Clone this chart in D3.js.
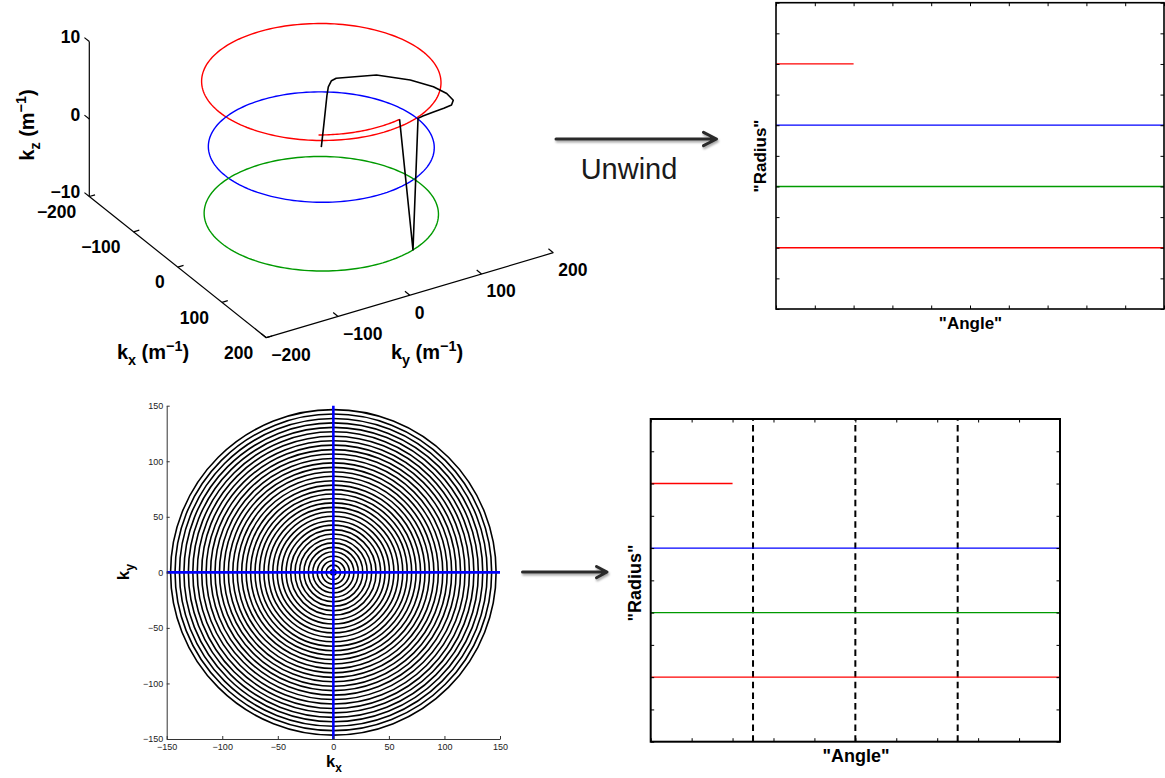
<!DOCTYPE html>
<html><head><meta charset="utf-8">
<script src="https://cdn.jsdelivr.net/npm/d3@7"></script>
<style>
body{margin:0;background:#fff;}
svg{display:block;font-family:"Liberation Sans",Arial,Helvetica,sans-serif;}
</style></head><body>
<script>
// ================= DATA =================
// --- 3D k-space panel ---
const ringSeries3d = ["red", "blue", "green"];
const ringRadius3d = [142, 134, 139];
const ringKz3d = [8.4, 0, -8.6];
const redArcAngleDeg = [-33, 10];
const redArcKz = [9.0, 9.2];
const redArcRadius = 140;
const trajKx = [0, 4, 6, 8, 11, 10, 11, 29, 60, 88, 110, 128, 137, 139, 140, 142, 144, 131, 135, 138];
const trajKy = [0, 1, 2, 3, 3, 8, 14, 59, 87, 102, 107, 105, 97, 85, 70, 54, 46, 47, 35, 24];
const trajKz = [0, 3, 5, 7, 8.2, 8.8, 9, 9, 9, 9, 9, 9, 9, 9, 9, 9, 9, -8.6, 0.5, 9.2];
const xTicks3d = [-200, -100, 0, 100, 200];
const yTicks3d = [-200, -100, 0, 100, 200];
const zTicks3d = [-10, 0, 10];

// --- concentric-circle panel ---
const ringRadii = [2.5, 6.5, 10.5, 14.5, 18.5, 22.5, 26.5, 30.5, 34.5, 38.5, 42.5, 46.5, 50.5,
  54.5, 58.5, 62.5, 66.5, 70.5, 74.5, 78.5, 82.5, 86.5, 90.5, 94.5, 98.5, 102.5, 106.5, 110.5,
  114.5, 118.5, 122.5, 126.5, 130.5, 134.5, 138.5, 142.5, 146.5];
const planeTicks = [-150, -100, -50, 0, 50, 100, 150];
const crossExtent = [-150, 150];

// --- unwound panels ---
const unwindSeries = ["red", "green", "blue", "red"];
const unwindRadius = [2, 4, 6, 8];
const unwindAngleStart = [0, 0, 0, 0];
const unwindAngleEnd = [10, 10, 10, 2];
const unwindTicks = [0, 1, 2, 3, 4, 5, 6, 7, 8, 9, 10];
const segmentAngles = [2.5, 5, 7.5];

const palette = {red: "#ff0000", blue: "#0000ff", green: "#009a00", black: "#000000"};

// ================= DRAW =================
const svg = d3.select("body").append("svg").attr("width", 1165).attr("height", 778);
const defs = svg.append("defs");
const f = defs.append("filter").attr("id", "shadow").attr("x", "-20%").attr("y", "-50%").attr("width", "140%").attr("height", "200%");
f.append("feDropShadow").attr("dx", 1).attr("dy", 2).attr("stdDeviation", 1.3).attr("flood-color", "#000").attr("flood-opacity", 0.35);

function addLabel(g, x, y, rot, size, parts) {
  const t = g.append("text").attr("transform", `translate(${x},${y}) rotate(${rot})`)
    .attr("text-anchor", "middle").attr("font-weight", "bold").attr("font-size", size).attr("fill", "#000");
  let shift = 0;
  parts.forEach(p => {
    let target = 0, fs = size;
    if (p.sub) { target = size * 0.28; fs = size * 0.72; }
    if (p.sup) { target = -size * 0.42; fs = size * 0.72; }
    t.append("tspan").attr("dy", target - shift).attr("font-size", fs).text(p.t);
    shift = target;
  });
  return t;
}
const fmt = t => String(t).replace("-", "\u2212");

// ---------- 3D panel ----------
const g3 = svg.append("g");
const P3 = {ox: 321.3, oy: 147.1, X: [88.5, 70.6], Y: [143.5, -42.5], Z: [0, -77.5]};
const sx3 = d3.scaleLinear().domain([-200, 200]).range([-1, 1]);
const sy3 = d3.scaleLinear().domain([-200, 200]).range([-1, 1]);
const sz3 = d3.scaleLinear().domain([-10, 10]).range([-1, 1]);
function proj(x, y, z) {
  const a = sx3(x), b = sy3(y), c = sz3(z);
  return [P3.ox + a * P3.X[0] + b * P3.Y[0] + c * P3.Z[0],
          P3.oy + a * P3.X[1] + b * P3.Y[1] + c * P3.Z[1]];
}
const line3 = d3.line();
const rad = d => d * Math.PI / 180;

// axes
const axStyle = sel => sel.attr("stroke", "#000").attr("stroke-width", 1.2).attr("fill", "none");
g3.append("path").attr("d", line3([proj(-200, -200, -10), proj(200, -200, -10)])).call(axStyle);
g3.append("path").attr("d", line3([proj(200, -200, -10), proj(200, 200, -10)])).call(axStyle);
g3.append("path").attr("d", line3([proj(-200, -200, -10), proj(-200, -200, 10)])).call(axStyle);
xTicks3d.forEach(t => {
  g3.append("path").attr("d", line3([proj(t, -200, -10), proj(t, -192, -10)])).call(axStyle);
  const p = proj(t, -200, -10);
  g3.append("text").attr("x", p[0] - 13).attr("y", p[1] + 15).attr("dy", "0.36em")
    .attr("text-anchor", "end").attr("font-weight", "bold").attr("font-size", 17.5).text(fmt(t));
});
yTicks3d.forEach(t => {
  g3.append("path").attr("d", line3([proj(200, t, -10), proj(189, t, -10)])).call(axStyle);
  const p = proj(200, t, -10);
  g3.append("text").attr("x", p[0] + 5).attr("y", p[1] + 17).attr("dy", "0.36em")
    .attr("text-anchor", "start").attr("font-weight", "bold").attr("font-size", 17.5).text(fmt(t));
});
zTicks3d.forEach(t => {
  g3.append("path").attr("d", line3([proj(-200, -200, t), proj(-211, -200, t)])).call(axStyle);
  const p = proj(-200, -200, t);
  g3.append("text").attr("x", p[0] - 9).attr("y", p[1] - 4.5).attr("dy", "0.36em")
    .attr("text-anchor", "end").attr("font-weight", "bold").attr("font-size", 17.5).text(fmt(t));
});
addLabel(g3, 34, 125, -90, 20, [{t: "k"}, {t: "z", sub: true}, {t: " (m"}, {t: "\u22121", sup: true}, {t: ")"}]);
addLabel(g3, 153, 359, 0, 20, [{t: "k"}, {t: "x", sub: true}, {t: " (m"}, {t: "\u22121", sup: true}, {t: ")"}]);
addLabel(g3, 427, 359, 0, 20, [{t: "k"}, {t: "y", sub: true}, {t: " (m"}, {t: "\u22121", sup: true}, {t: ")"}]);

// rings
const degs = d3.range(0, 361, 2);
ringSeries3d.forEach((s, i) => {
  const pts = degs.map(d => proj(ringRadius3d[i] * Math.cos(rad(d)), ringRadius3d[i] * Math.sin(rad(d)), ringKz3d[i]));
  g3.append("path").attr("d", line3(pts)).attr("fill", "none").attr("stroke", palette[s]).attr("stroke-width", 1.4);
});
// red arc (second partial turn)
{
  const a0 = redArcAngleDeg[0], a1 = redArcAngleDeg[1];
  const zS = d3.scaleLinear().domain([a0, a1]).range(redArcKz);
  const pts = d3.range(a0, a1 + 0.01, 1).map(d => proj(redArcRadius * Math.cos(rad(d)), redArcRadius * Math.sin(rad(d)), zS(d)));
  g3.append("path").attr("d", line3(pts)).attr("fill", "none").attr("stroke", palette.red).attr("stroke-width", 1.4);
}
// trajectory
g3.append("path").attr("d", line3(trajKx.map((x, i) => proj(x, trajKy[i], trajKz[i]))))
  .attr("fill", "none").attr("stroke", palette.black).attr("stroke-width", 1.6).attr("stroke-linejoin", "round");

// ---------- Concentric panel ----------
const gc = svg.append("g");
const bx = d3.scaleLinear().domain([-150, 150]).range([166.7, 500]);
const by = d3.scaleLinear().domain([-150, 150]).range([739, 405.7]);
gc.selectAll("circle.ring").data(ringRadii).join("circle").attr("class", "ring")
  .attr("cx", bx(0)).attr("cy", by(0)).attr("r", d => bx(d) - bx(0))
  .attr("fill", "none").attr("stroke", "#000").attr("stroke-width", 1.6);
gc.append("line").attr("x1", bx(crossExtent[0])).attr("x2", bx(crossExtent[1])).attr("y1", by(0)).attr("y2", by(0))
  .attr("stroke", palette.blue).attr("stroke-width", 2.6);
gc.append("line").attr("x1", bx(0)).attr("x2", bx(0)).attr("y1", by(crossExtent[1])).attr("y2", by(crossExtent[0]))
  .attr("stroke", palette.blue).attr("stroke-width", 2.6);
const axL = gc.append("g").attr("transform", `translate(${bx(-150)},0)`)
  .call(d3.axisLeft(by).tickValues(planeTicks).tickSize(-3).tickSizeOuter(0).tickPadding(3.5));
const axB = gc.append("g").attr("transform", `translate(0,${by(-150)})`)
  .call(d3.axisBottom(bx).tickValues(planeTicks).tickSize(-3).tickSizeOuter(0).tickPadding(5));
[axL, axB].forEach(a => {
  a.selectAll("text").attr("font-size", 9).attr("fill", "#222").attr("font-family", "Liberation Sans, Arial, sans-serif");
  a.selectAll("line,path").attr("stroke", "#333");
});
addLabel(gc, 129, 572, -90, 17, [{t: "k"}, {t: "y", sub: true}]);
addLabel(gc, 334, 767, 0, 16.5, [{t: "k"}, {t: "x", sub: true}]);

// ---------- Unwound panels ----------
function unwound(xr, yr, lw, borderW, labelSize, radPos, angPos, dashed) {
  const g = svg.append("g");
  const x = d3.scaleLinear().domain([0, 10]).range(xr);
  const y = d3.scaleLinear().domain([0, 10]).range(yr);
  if (dashed) {
    g.selectAll("line.seg").data(segmentAngles).join("line").attr("class", "seg")
      .attr("x1", d => x(d)).attr("x2", d => x(d)).attr("y1", y(0)).attr("y2", y(10))
      .attr("stroke", "#000").attr("stroke-width", 2).attr("stroke-dasharray", "6.5,4.2");
  }
  g.selectAll("line.ser").data(unwindRadius).join("line").attr("class", "ser")
    .attr("x1", (d, i) => x(unwindAngleStart[i])).attr("x2", (d, i) => x(unwindAngleEnd[i]))
    .attr("y1", d => y(d)).attr("y2", d => y(d))
    .attr("stroke", (d, i) => palette[unwindSeries[i]]).attr("stroke-width", lw);
  const tl = 3.5;
  const axes = [
    g.append("g").attr("transform", `translate(0,${y(0)})`).call(d3.axisBottom(x).tickValues(unwindTicks).tickSize(-tl)),
    g.append("g").attr("transform", `translate(0,${y(10)})`).call(d3.axisTop(x).tickValues(unwindTicks).tickSize(-tl)),
    g.append("g").attr("transform", `translate(${x(0)},0)`).call(d3.axisLeft(y).tickValues(unwindTicks).tickSize(-tl)),
    g.append("g").attr("transform", `translate(${x(10)},0)`).call(d3.axisRight(y).tickValues(unwindTicks).tickSize(-tl))
  ];
  axes.forEach(a => { a.select(".domain").remove(); a.selectAll("text").remove(); a.selectAll("line").attr("stroke", "#000"); });
  g.append("rect").attr("x", x(0)).attr("y", y(10)).attr("width", x(10) - x(0)).attr("height", y(0) - y(10))
    .attr("fill", "none").attr("stroke", "#000").attr("stroke-width", borderW);
  g.append("text").attr("transform", `translate(${radPos[0]},${radPos[1]}) rotate(-90)`).attr("text-anchor", "middle")
    .attr("font-weight", "bold").attr("font-size", labelSize).text("\"Radius\"");
  g.append("text").attr("x", angPos[0]).attr("y", angPos[1]).attr("text-anchor", "middle")
    .attr("font-weight", "bold").attr("font-size", labelSize).text("\"Angle\"");
}
unwound([776, 1164], [309, 2.7], 1.3, 1.6, 17, [766, 156], [970.5, 328.5], false);
unwound([650.7, 1060], [741.7, 419], 1.4, 2, 18, [641, 583], [856, 761.5], true);

// ---------- Arrows ----------
const ga = svg.append("g").attr("filter", "url(#shadow)").attr("stroke", "#2b2b2b").attr("fill", "none")
  .attr("stroke-width", 3).attr("stroke-linecap", "round").attr("stroke-linejoin", "round");
ga.append("path").attr("d", "M556,139 L716,139 M703.5,132.3 L716.5,139 L703.5,145.7");
ga.append("path").attr("d", "M522.5,572 L606.5,572 M596.5,566.5 L607,572 L596.5,577.8");
svg.append("text").attr("x", 629).attr("y", 179).attr("text-anchor", "middle").attr("font-size", 29)
  .attr("fill", "#1a1a1a").text("Unwind");
</script>
</body></html>
